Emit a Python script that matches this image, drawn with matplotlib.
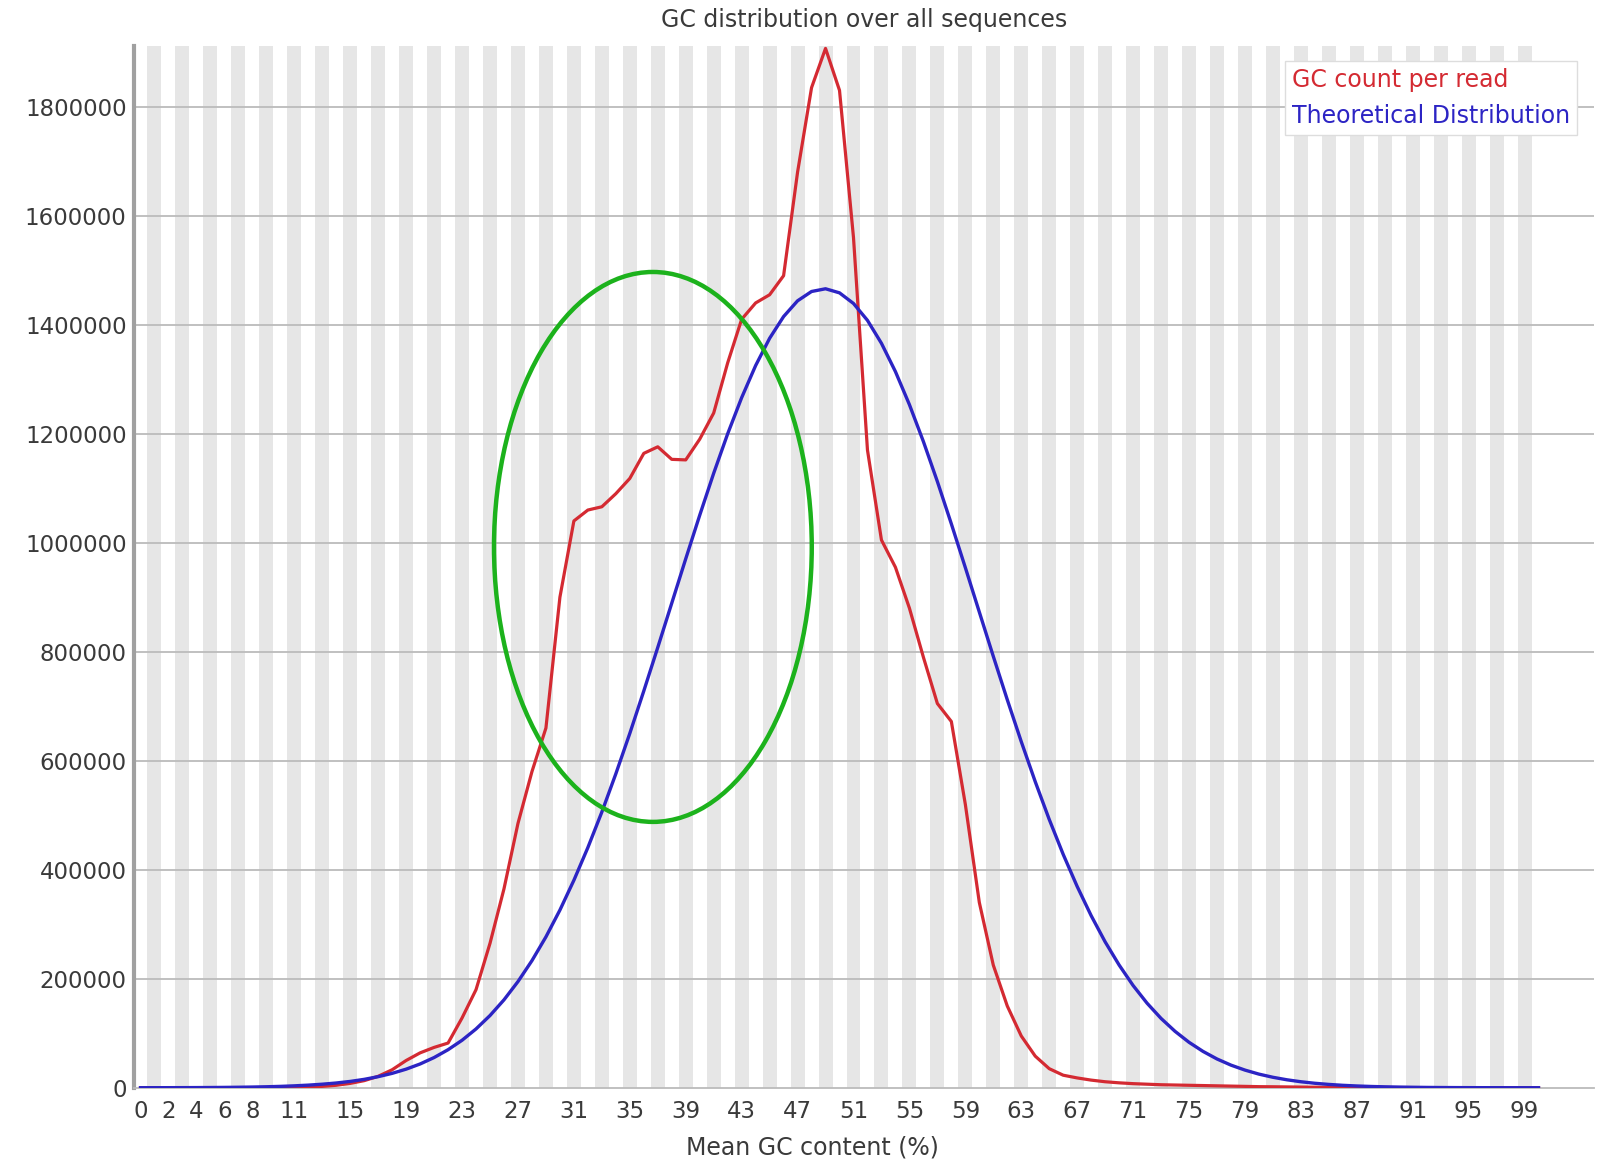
import matplotlib.pyplot as plt
from matplotlib.patches import Ellipse

# mean GC content, one point per percent
gc_percent = list(range(101))

gc_count = [0, 0, 0, 0, 0, 0, 0, 0, 0, 0,
            500, 1000, 1500, 2500, 4500, 8000, 13000, 21000, 33000, 50000,
            64000, 74000, 82000, 128000, 180000, 265000, 365000, 485000, 580000, 660000,
            900000, 1040000, 1060000, 1066000, 1090000, 1118000, 1164000, 1176000, 1153000, 1152000,
            1190000, 1238000, 1330000, 1410000, 1440000, 1455000, 1490000, 1680000, 1835000, 1907000,
            1830000, 1560000, 1170000, 1005000, 955000, 880000, 790000, 705000, 672000, 520000,
            340000, 225000, 150000, 95000, 58000, 35000, 23000, 18000, 14000, 11000,
            9000, 7500, 6500, 5500, 5000, 4500, 4000, 3500, 3000, 2500,
            2000, 1800, 1500, 1200, 1000, 800, 700, 600, 500, 400,
            350, 300, 250, 200, 150, 120, 100, 80, 60, 40, 30]

theoretical = [60, 90, 140, 210, 300, 440, 640, 910, 1280, 1800,
               2500, 3500, 4800, 6500, 8700, 11600, 15400, 20300, 26400, 34100,
               43600, 55400, 69800, 87100, 107900, 132500, 161300, 194800, 233200, 276800,
               326000, 380700, 440700, 505900, 576000, 650200, 728000, 807900, 889100, 970500,
               1050400, 1127500, 1199900, 1266200, 1325100, 1375100, 1415000, 1443900, 1461000, 1466000,
               1458500, 1439000, 1408000, 1365900, 1314000, 1253400, 1185700, 1112300, 1034600, 954400,
               872900, 791600, 712000, 635100, 561600, 492400, 428200, 369300, 315800, 267700,
               225200, 187600, 155100, 127200, 103500, 83400, 66700, 52800, 41500, 32400,
               25000, 19200, 14600, 11000, 8200, 6100, 4470, 3260, 2350, 1690,
               1200, 850, 590, 410, 280, 190, 130, 90, 60, 40, 25]

x_tick_values = [0, 2, 4, 6, 8] + list(range(11, 100, 4))
y_tick_values = list(range(0, 1800001, 200000))

fig = plt.figure(figsize=(15.97, 11.61), dpi=100)
ax = fig.add_axes([0.0836, 0.0631, 0.9148, 0.8974])

# alternating grey bands, one per category
for i in gc_percent:
    if i % 2 == 1:
        ax.axvspan(i - 0.5, i + 0.5, color='#e6e6e6', lw=0, zorder=0)
for y in y_tick_values[1:]:
    ax.axhline(y, color='#bbbbbb', lw=1.3, zorder=1)

ax.plot(gc_percent, gc_count, color='#d42a32', lw=2.3, label='GC count per read', zorder=3)
ax.plot(gc_percent, theoretical, color='#2c24c4', lw=2.4, label='Theoretical Distribution', zorder=4)

# green highlight ring
ring = Ellipse((36.65, 992300), 22.73, 1009000, fill=False, edgecolor='#1cb21c',
               lw=3.2, zorder=5, clip_on=False)
ax.add_patch(ring)

ax.set_xlim(-0.5, 104.0)
ax.set_ylim(0, 1911700)
ax.set_xticks(x_tick_values)
ax.set_xticklabels([str(v) for v in x_tick_values])
ax.set_yticks(y_tick_values)
ax.set_yticklabels([str(v) for v in y_tick_values])
ax.tick_params(axis='both', length=0, labelsize=16.5, colors='#3a3a3a')
ax.tick_params(axis='x', pad=9)
ax.tick_params(axis='y', pad=5)

for side in ['top', 'right']:
    ax.spines[side].set_visible(False)
ax.spines['left'].set_color('#a0a0a0')
ax.spines['left'].set_linewidth(3)
ax.spines['bottom'].set_color('#bbbbbb')
ax.spines['bottom'].set_linewidth(1.3)

ax.set_title('GC distribution over all sequences', fontsize=17, color='#3a3a3a', pad=13.8)
ax.set_xlabel('Mean GC content (%)', fontsize=17, color='#3a3a3a')
ax.xaxis.set_label_coords(0.4644, -0.046)

leg = ax.legend(loc='upper right', bbox_to_anchor=(0.9963, 0.9969), handlelength=0,
                handletextpad=0, fontsize=17, fancybox=False, edgecolor='#dddddd',
                framealpha=1, borderpad=0.3, labelspacing=0.52, labelcolor='linecolor')
for h in leg.legend_handles:
    h.set_visible(False)

fig.savefig('out.png', dpi=100)
